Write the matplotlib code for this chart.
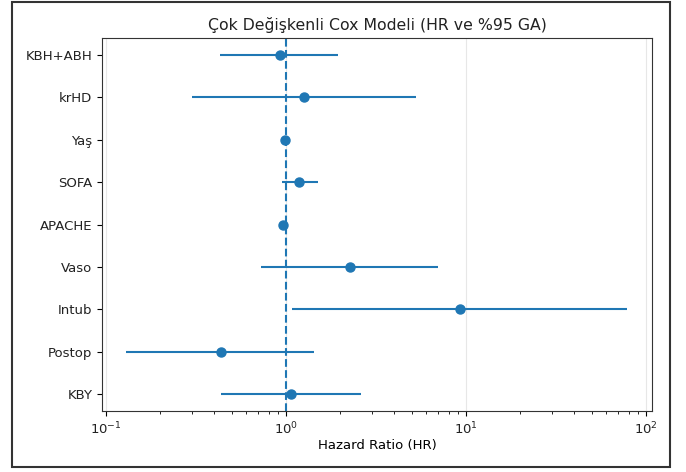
import numpy as np
import matplotlib
matplotlib.use("Agg")
import matplotlib.pyplot as plt
from matplotlib.patches import Rectangle

# Değişkenler (üstten alta)
variables = ["KBH+ABH", "krHD", "Yaş", "SOFA", "APACHE", "Vaso", "Intub", "Postop", "KBY"]
hr = [0.93, 1.26, 0.99, 1.18, 0.96, 2.27, 9.3, 0.435, 1.07]
ci_low = [0.43, 0.30, 0.97, 0.95, 0.94, 0.73, 1.08, 0.13, 0.435]
ci_high = [1.95, 5.3, 1.01, 1.5, 0.98, 7.0, 78.0, 1.43, 2.6]

plt.rcParams['font.size'] = 9.5
plt.rcParams['text.color'] = '#222222'
plt.rcParams['xtick.labelcolor'] = '#222222'
plt.rcParams['ytick.labelcolor'] = '#222222'

hr = np.array(hr)
err = np.array([hr - np.array(ci_low), np.array(ci_high) - hr])
y = np.arange(len(variables))[::-1]

fig = plt.figure(figsize=(6.86, 4.72), dpi=100)
ax = fig.add_axes([0.1487, 0.1292, 0.8017, 0.7903])

ax.errorbar(hr, y, xerr=err, fmt='o', color='C0', markersize=6.5, elinewidth=1.5, capsize=0)
ax.axvline(1, linestyle='--', color='C0', linewidth=1.5)
ax.set_xscale('log')
ax.set_xlim(10 ** -1.022, 10 ** 2.033)
ax.set_yticks(y)
ax.set_yticklabels(variables)
ax.set_xlabel("Hazard Ratio (HR)", labelpad=1)
ax.set_title("Çok Değişkenli Cox Modeli (HR ve %95 GA)", fontsize=11.3)
ax.grid(axis='x', which='major', alpha=0.3)
for s in ax.spines.values():
    s.set_edgecolor('#333333')

# dış çerçeve
fig.patches.append(Rectangle((12 / 686, 1 - 467 / 472), 658 / 686, 465 / 472,
                             transform=fig.transFigure, fill=False,
                             edgecolor='#333333', linewidth=1.5))

fig.savefig("out.png", dpi=100)
